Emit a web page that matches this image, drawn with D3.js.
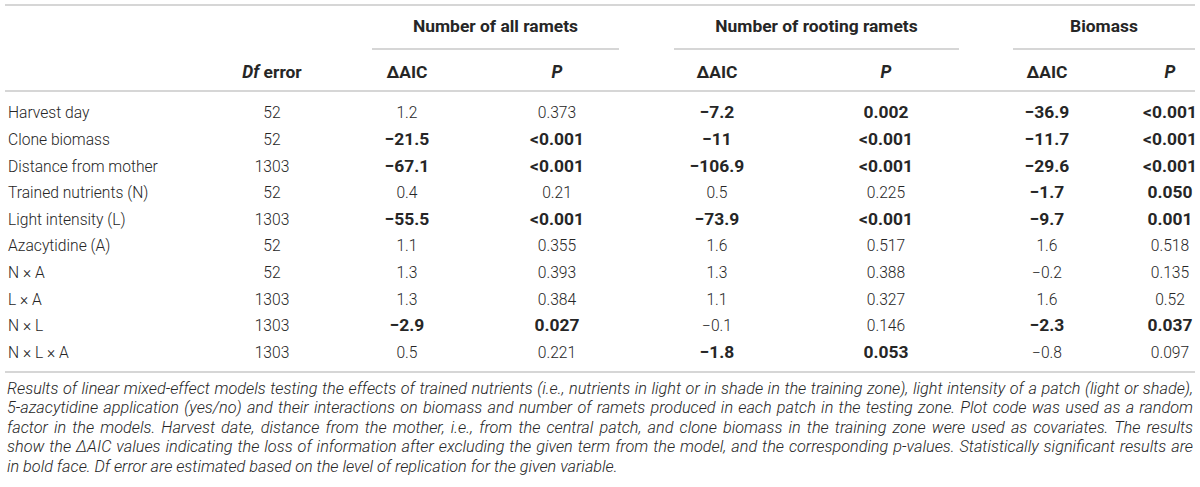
<!DOCTYPE html>
<html>
<head>
<meta charset="utf-8">
<script src="https://cdn.jsdelivr.net/npm/d3@7"></script>
<style>
  body { margin: 0; background: #fff; }
  svg text { font-family: Roboto, "Liberation Sans", Arial, sans-serif; fill: #262626; }
  .reg { font-weight: 300; }
  .bold { font-weight: 700; }
  .cap { font-style: italic; font-weight: 300; }
</style>
</head>
<body>
<svg id="chart"></svg>
<script>
const WIDTH = 1200;
const HEIGHT = 487;
const LINE_COLOR = '#d6d6d6';

// table rows
const terms = ['Harvest day', 'Clone biomass', 'Distance from mother', 'Trained nutrients (N)',
  'Light intensity (L)', 'Azacytidine (A)', 'N × A', 'L × A', 'N × L', 'N × L × A'];
const dfError = ['52', '52', '1303', '52', '1303', '52', '52', '1303', '1303', '1303'];

const aicAll  = ['1.2', '−21.5', '−67.1', '0.4', '−55.5', '1.1', '1.3', '1.3', '−2.9', '0.5'];
const pAll    = ['0.373', '<0.001', '<0.001', '0.21', '<0.001', '0.355', '0.393', '0.384', '0.027', '0.221'];
const sigAll  = [0, 1, 1, 0, 1, 0, 0, 0, 1, 0];

const aicRoot = ['−7.2', '−11', '−106.9', '0.5', '−73.9', '1.6', '1.3', '1.1', '−0.1', '−1.8'];
const pRoot   = ['0.002', '<0.001', '<0.001', '0.225', '<0.001', '0.517', '0.388', '0.327', '0.146', '0.053'];
const sigRoot = [1, 1, 1, 0, 1, 0, 0, 0, 0, 1];

const aicBio  = ['−36.9', '−11.7', '−29.6', '−1.7', '−9.7', '1.6', '−0.2', '1.6', '−2.3', '−0.8'];
const pBio    = ['<0.001', '<0.001', '<0.001', '0.050', '0.001', '0.518', '0.135', '0.52', '0.037', '0.097'];
const sigBio  = [1, 1, 1, 1, 1, 0, 0, 0, 1, 0];

const groups = ['Number of all ramets', 'Number of rooting ramets', 'Biomass'];
const captionLines = [
  'Results of linear mixed-effect models testing the effects of trained nutrients (i.e., nutrients in light or in shade in the training zone), light intensity of a patch (light or shade),',
  '5-azacytidine application (yes/no) and their interactions on biomass and number of ramets produced in each patch in the testing zone. Plot code was used as a random',
  'factor in the models. Harvest date, distance from the mother, i.e., from the central patch, and clone biomass in the training zone were used as covariates. The results',
  'show the ΔAIC values indicating the loss of information after excluding the given term from the model, and the corresponding p-values. Statistically significant results are',
  'in bold face. Df error are estimated based on the level of replication for the given variable.'
];

/* global d3 */
const $svg = d3.select('#chart')
  .attr('width', WIDTH)
  .attr('height', HEIGHT)
  .style('display', 'block');

// pick font sizes so the installed font spans the same widths as the original
function fitSize(str, cls, target) {
  const probe = $svg.append('text').attr('class', cls).style('font-size', '20px').text(str);
  const w = probe.node().getComputedTextLength();
  probe.remove();
  return 20 * target / w;
}
const FONT_SIZE = fitSize('Distance from mother', 'reg', 150);
const BOLD_SIZE = fitSize('Number of all ramets', 'bold', 165);
const CAP_SIZE = fitSize(captionLines[4], 'cap', 611);

// layout
const TABLE = { left: 5, right: 1195 };
const LINES = { top: 5, group: 49, head: 91, bottom: 372 };

const colKeys = ['df', 'aicAll', 'pAll', 'aicRoot', 'pRoot', 'aicBio', 'pBio'];
const scaleCol = d3.scaleOrdinal()
  .domain(colKeys)
  .range([272, 407, 557, 717, 886, 1047, 1170]);

const scaleGroup = d3.scaleOrdinal()
  .domain(groups)
  .range([[372, 619], [674, 959], [1013, TABLE.right]]);

const scaleRow = d3.scaleBand()
  .domain(terms)
  .range([99.5, 365.5])
  .padding(0);

const baseline = (c, fs) => c + fs * 0.36;

// rules
$svg.selectAll('line.rule')
  .data([LINES.top, LINES.head, LINES.bottom])
  .join('line')
  .attr('class', 'rule')
  .attr('x1', TABLE.left)
  .attr('x2', TABLE.right)
  .attr('y1', d => d)
  .attr('y2', d => d)
  .attr('stroke', LINE_COLOR)
  .attr('stroke-width', 2);

$svg.selectAll('line.group-rule')
  .data(groups)
  .join('line')
  .attr('class', 'group-rule')
  .attr('x1', d => scaleGroup(d)[0])
  .attr('x2', d => scaleGroup(d)[1])
  .attr('y1', LINES.group)
  .attr('y2', LINES.group)
  .attr('stroke', LINE_COLOR)
  .attr('stroke-width', 2);

// group headings
$svg.selectAll('text.group')
  .data(groups)
  .join('text')
  .attr('class', 'group bold')
  .attr('x', d => (scaleGroup(d)[0] + scaleGroup(d)[1]) / 2)
  .attr('y', baseline(26, BOLD_SIZE))
  .attr('text-anchor', 'middle')
  .style('font-size', BOLD_SIZE + 'px')
  .text(d => d);

// sub headings
const headY = baseline(72, BOLD_SIZE);
const dfHead = $svg.append('text')
  .attr('class', 'bold')
  .attr('x', scaleCol('df'))
  .attr('y', headY)
  .attr('text-anchor', 'middle')
  .style('font-size', BOLD_SIZE + 'px');
dfHead.append('tspan').style('font-style', 'italic').text('Df');
dfHead.append('tspan').text(' error');

const subKeys = colKeys.slice(1);
$svg.selectAll('text.sub')
  .data(subKeys)
  .join('text')
  .attr('class', 'sub bold')
  .attr('x', d => scaleCol(d))
  .attr('y', headY)
  .attr('text-anchor', 'middle')
  .style('font-size', BOLD_SIZE + 'px')
  .style('font-style', d => d.startsWith('p') ? 'italic' : 'normal')
  .text(d => d.startsWith('p') ? 'P' : 'ΔAIC');

// body
const rows = terms.map((t, i) => ({
  term: t,
  cells: [
    { key: 'df', v: dfError[i], b: 0 },
    { key: 'aicAll', v: aicAll[i], b: sigAll[i] },
    { key: 'pAll', v: pAll[i], b: sigAll[i] },
    { key: 'aicRoot', v: aicRoot[i], b: sigRoot[i] },
    { key: 'pRoot', v: pRoot[i], b: sigRoot[i] },
    { key: 'aicBio', v: aicBio[i], b: sigBio[i] },
    { key: 'pBio', v: pBio[i], b: sigBio[i] }
  ]
}));

const $row = $svg.selectAll('g.row')
  .data(rows)
  .join('g')
  .attr('class', 'row')
  .attr('transform', d => `translate(0,${baseline(scaleRow(d.term) + scaleRow.bandwidth() / 2, FONT_SIZE)})`);

$row.append('text')
  .attr('class', 'reg')
  .attr('x', 8)
  .style('font-size', FONT_SIZE + 'px')
  .text(d => d.term);

$row.selectAll('text.cell')
  .data(d => d.cells)
  .join('text')
  .attr('class', d => 'cell ' + (d.b ? 'bold' : 'reg'))
  .attr('x', d => scaleCol(d.key))
  .attr('text-anchor', 'middle')
  .style('font-size', d => (d.b ? BOLD_SIZE : FONT_SIZE) + 'px')
  .text(d => d.v);

// caption, justified
const capTop = 388;
const capStep = 19.5;
captionLines.forEach((line, i) => {
  const t = $svg.append('text')
    .attr('class', 'cap')
    .attr('x', 7)
    .attr('y', baseline(capTop + i * capStep, CAP_SIZE))
    .style('font-size', CAP_SIZE + 'px')
    .text(line);
  if (i < captionLines.length - 1) {
    const natural = t.node().getComputedTextLength();
    const spaces = line.split(' ').length - 1;
    const extra = (TABLE.right - 2 - 7 - natural) / spaces;
    t.style('word-spacing', extra + 'px');
  }
});
</script>
</body>
</html>
